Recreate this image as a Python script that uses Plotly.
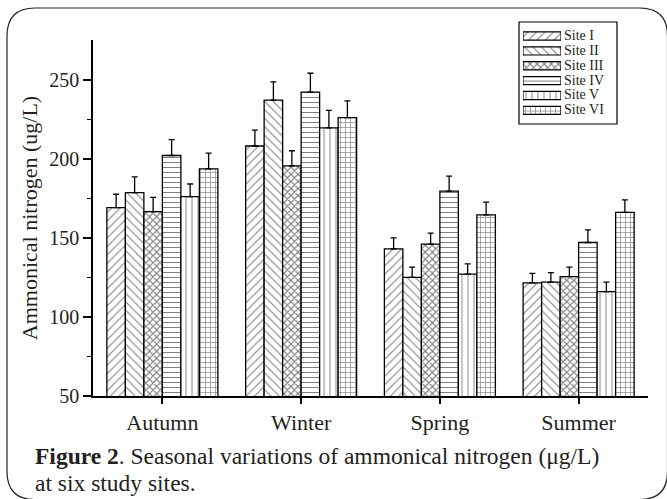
import plotly.graph_objects as go

seasons = ["Autumn", "Winter", "Spring", "Summer"]
sites = ["Site I", "Site II", "Site III", "Site IV", "Site V", "Site VI"]

site1 = [169, 208, 143, 121.5]
site2 = [178.5, 237, 125, 122]
site3 = [166.5, 195.5, 146, 125.5]
site4 = [202, 242, 179.5, 147]
site5 = [176, 219.5, 127, 116]
site6 = [193.5, 226, 164.5, 166]

err1 = [8.5, 10, 7, 6]
err2 = [10, 11.5, 6.5, 6]
err3 = [9, 9.5, 7, 6]
err4 = [10, 12, 9.5, 8]
err5 = [8, 11, 6.5, 6]
err6 = [10, 10.5, 8, 8]

values = [site1, site2, site3, site4, site5, site6]
errors = [err1, err2, err3, err4, err5, err6]
patterns = ["/", "\\", "x", "-", "|", "+"]
pat_size = [6, 6, 5, 5, 6, 5]
pat_sol = [0.18, 0.18, 0.4, 0.2, 0.15, 0.25]

FONT = "Liberation Serif"
TXT = "#231f20"

# pixel geometry: main plot area L..R x T..B, paper area starts at TP
L, R, T, B, TP = 93, 648, 40, 396, 10
W, H = 667, 499


def px(x):
    return (x - L) / (R - L)


def py(y):
    return (B - y) / (B - TP)


def pat(i):
    return dict(shape=patterns[i], fgcolor="black", bgcolor="white",
                size=pat_size[i], solidity=pat_sol[i], fillmode="overlay")


fig = go.Figure()
for i, (name, v, e) in enumerate(zip(sites, values, errors)):
    fig.add_trace(go.Bar(
        name=name, x=seasons, y=v, showlegend=False,
        marker=dict(color="white", line=dict(color="black", width=1.3), pattern=pat(i)),
        error_y=dict(type="data", array=e, arrayminus=[0] * len(e), symmetric=False,
                     color="black", thickness=1.3, width=3),
    ))

# legend swatches (long rectangles) drawn on an inset axis
for i, name in enumerate(sites):
    fig.add_trace(go.Bar(
        name=name, y=[name], x=[1], orientation="h", width=0.55,
        xaxis="x2", yaxis="y2", showlegend=False, hoverinfo="skip",
        marker=dict(color="white", line=dict(color="black", width=1.2), pattern=pat(i)),
    ))
    fig.add_annotation(xref="paper", yref="paper", x=px(562), y=py(35.7 + 14.8 * i),
                       xanchor="left", yanchor="middle", showarrow=False, text=name,
                       font=dict(family=FONT, size=14, color=TXT))

fig.add_shape(type="rect", xref="paper", yref="paper",
              x0=px(519), x1=px(617), y0=py(124), y1=py(22),
              line=dict(color="black", width=1.2), fillcolor="rgba(0,0,0,0)", layer="above")

x0, x1, y0, y1, r = 7, 667.5, 8, 499.5, 28
pts = [
    ("M", x0 + r, y0), ("L", x1 - r, y0), ("Q", x1, y0, x1, y0 + r),
    ("L", x1, y1 - r), ("Q", x1, y1, x1 - r, y1), ("L", x0 + r, y1),
    ("Q", x0, y1, x0, y1 - r), ("L", x0, y0 + r), ("Q", x0, y0, x0 + r, y0),
]
path = ""
for item in pts:
    s = item[0]
    coords = item[1:]
    for k in range(0, len(coords), 2):
        s += f"{px(coords[k]):.5f},{py(coords[k + 1]):.5f} "
    path += s
path += "Z"
fig.add_shape(type="path", path=path, xref="paper", yref="paper",
              line=dict(color="#222", width=1.2), layer="below")

fig.add_annotation(
    xref="paper", yref="paper", x=px(33), y=py(456), xanchor="left", yanchor="middle",
    align="left", showarrow=False,
    text="<b>Figure 2</b>. Seasonal variations of ammonical nitrogen (μg/L)",
    font=dict(family=FONT, size=23.5, color=TXT),
)
fig.add_annotation(
    xref="paper", yref="paper", x=px(33), y=py(483), xanchor="left", yanchor="middle",
    align="left", showarrow=False, text="at six study sites.",
    font=dict(family=FONT, size=23.5, color=TXT),
)

fig.update_layout(
    width=W, height=H,
    margin=dict(l=L, r=W - R, t=TP, b=H - B, autoexpand=False),
    paper_bgcolor="white", plot_bgcolor="white",
    barmode="group", bargap=0.2, bargroupgap=0,
    font=dict(family=FONT, color=TXT, size=18),
    showlegend=False,
    xaxis=dict(type="category", categoryarray=seasons, range=[-0.5, 3.5],
               showline=True, linecolor="black", linewidth=1.5,
               ticks="outside", ticklen=6, tickwidth=1.5, tickcolor="black",
               showgrid=False, zeroline=False,
               tickfont=dict(family=FONT, size=22, color=TXT)),
    yaxis=dict(range=[50, 275], tickvals=[50, 100, 150, 200, 250],
               domain=[0, py(T)],
               showline=True, linecolor="black", linewidth=1.5,
               ticks="outside", ticklen=8, tickwidth=1.5, tickcolor="black",
               showgrid=False, zeroline=False,
               minor=dict(tickvals=[75, 125, 175, 225], ticks="outside", ticklen=4,
                          tickwidth=1.2, tickcolor="black", showgrid=False),
               tickfont=dict(family=FONT, size=20, color=TXT),
               title=dict(text="Ammonical nitrogen (ug/L)", standoff=6,
                          font=dict(family=FONT, size=22, color=TXT))),
    xaxis2=dict(domain=[px(523), px(561)], range=[0, 1], anchor="y2",
                visible=False, fixedrange=True),
    yaxis2=dict(domain=[py(117.8), py(28.6)], type="category", categoryarray=sites,
                range=[5.5, -0.5], anchor="x2", visible=False, fixedrange=True),
)

fig.write_html("out.html", config={"displayModeBar": False},
               post_script="document.body.style.margin='0';")
